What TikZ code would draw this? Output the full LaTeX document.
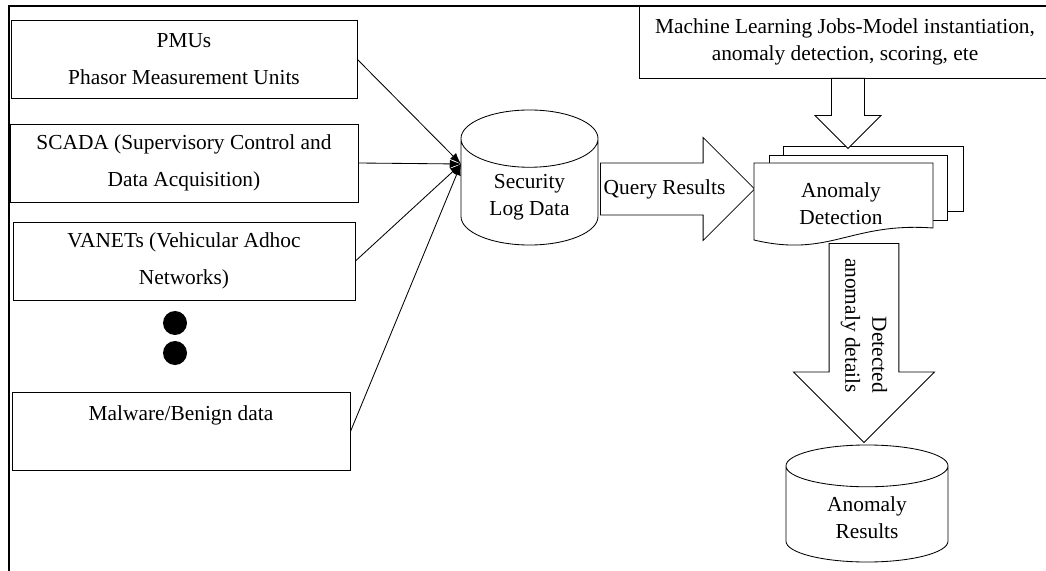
\documentclass[tikz,border=0pt]{standalone}
\usepackage{fontspec}
\setmainfont{Liberation Serif}
\usetikzlibrary{shapes.geometric,shapes.arrows,arrows.meta}

\begin{document}
\begin{tikzpicture}[x=0.025cm,y=-0.025cm,line width=0.6pt,
	every node/.style={font=\fontsize{15.2}{19.2}\selectfont},
	srcbox/.style={draw,rectangle,align=center,minimum height=1.95cm,font=\fontsize{15.2}{26.3}\selectfont},
	datastore/.style={draw,fill=white,cylinder,shape border rotate=90,align=center,anchor=shape center},
	bigarrow/.style={draw,fill=white,single arrow,single arrow tip angle=90,inner xsep=2pt,anchor=tail},
	sheet/.style={draw,fill=white},
	dot/.style={circle,fill=black,minimum size=0.6cm,inner sep=0pt},
	feed/.style={-{Latex[length=8pt,width=6pt]}}]
	\useasboundingbox (0,0) rectangle (1046,571);
	\draw[line width=0.8pt] (9,571) -- (9,6) -- (1046,6);
	\node[srcbox,minimum width=8.65cm] (pmu) at (184,59.5) {PMUs\\Phasor Measurement Units};
	\node[srcbox,minimum width=8.7cm] (scada) at (184,163) {SCADA (Supervisory Control and\\Data Acquisition)};
	\node[srcbox,minimum width=8.55cm] (vanet) at (184,261) {VANETs (Vehicular Adhoc\\Networks)};
	\node[dot] (dot1) at (175,323) {};
	\node[dot] (dot2) at (175,353) {};
	\node[srcbox,minimum width=8.45cm] (malware) at (181,431.5) {Malware/Benign data\\\mbox{}};
	\node[datastore,minimum width=3.425cm,minimum height=3.375cm,aspect=0.64] (logdata) at (529.5,177.5) {Security\\Log Data};
	\coordinate (hub) at (461,164);
	\draw[feed] (pmu.east) -- (hub);
	\draw[feed] (scada.east) -- (hub);
	\draw[feed] (vanet.east) -- (hub);
	\draw[feed] (malware.east) -- (hub);
	\node[bigarrow,inner ysep=11.3pt,minimum height=3.7cm,minimum width=2.55cm,single arrow head extend=0.6375cm] (query) at (600,189) {Query Results};
	\draw[sheet] (783,146) rectangle (963,211);
	\draw[sheet] (769,155) rectangle (947,220);
	\draw[sheet] (754,163) -- (933,163) -- (933,228) .. controls (850,222) and (830,258) .. (754,240) -- cycle;
	\node[align=center] (detect) at (841,204) {Anomaly\\Detection};
	\node[draw,rectangle,align=center,minimum width=10.3cm,minimum height=1.8cm] (mljobs) at (845,42) {Machine Learning Jobs-Model instantiation,\\anomaly detection, scoring, ete};
	\node[bigarrow,rotate=-90,inner ysep=11.4pt,minimum height=1.75cm,minimum width=1.625cm,single arrow head extend=0.4125cm] (feedin) at (848,78) {};
	\node[bigarrow,rotate=-90,align=right,inner ysep=8pt,minimum height=4.975cm,minimum width=3.5cm,single arrow head extend=0.8875cm] (details) at (864,243) {Detected\\anomaly details};
	\node[datastore,minimum width=4.05cm,minimum height=2.925cm,aspect=0.47] (results) at (867,503.5) {Anomaly\\Results};
\end{tikzpicture}
\end{document}
